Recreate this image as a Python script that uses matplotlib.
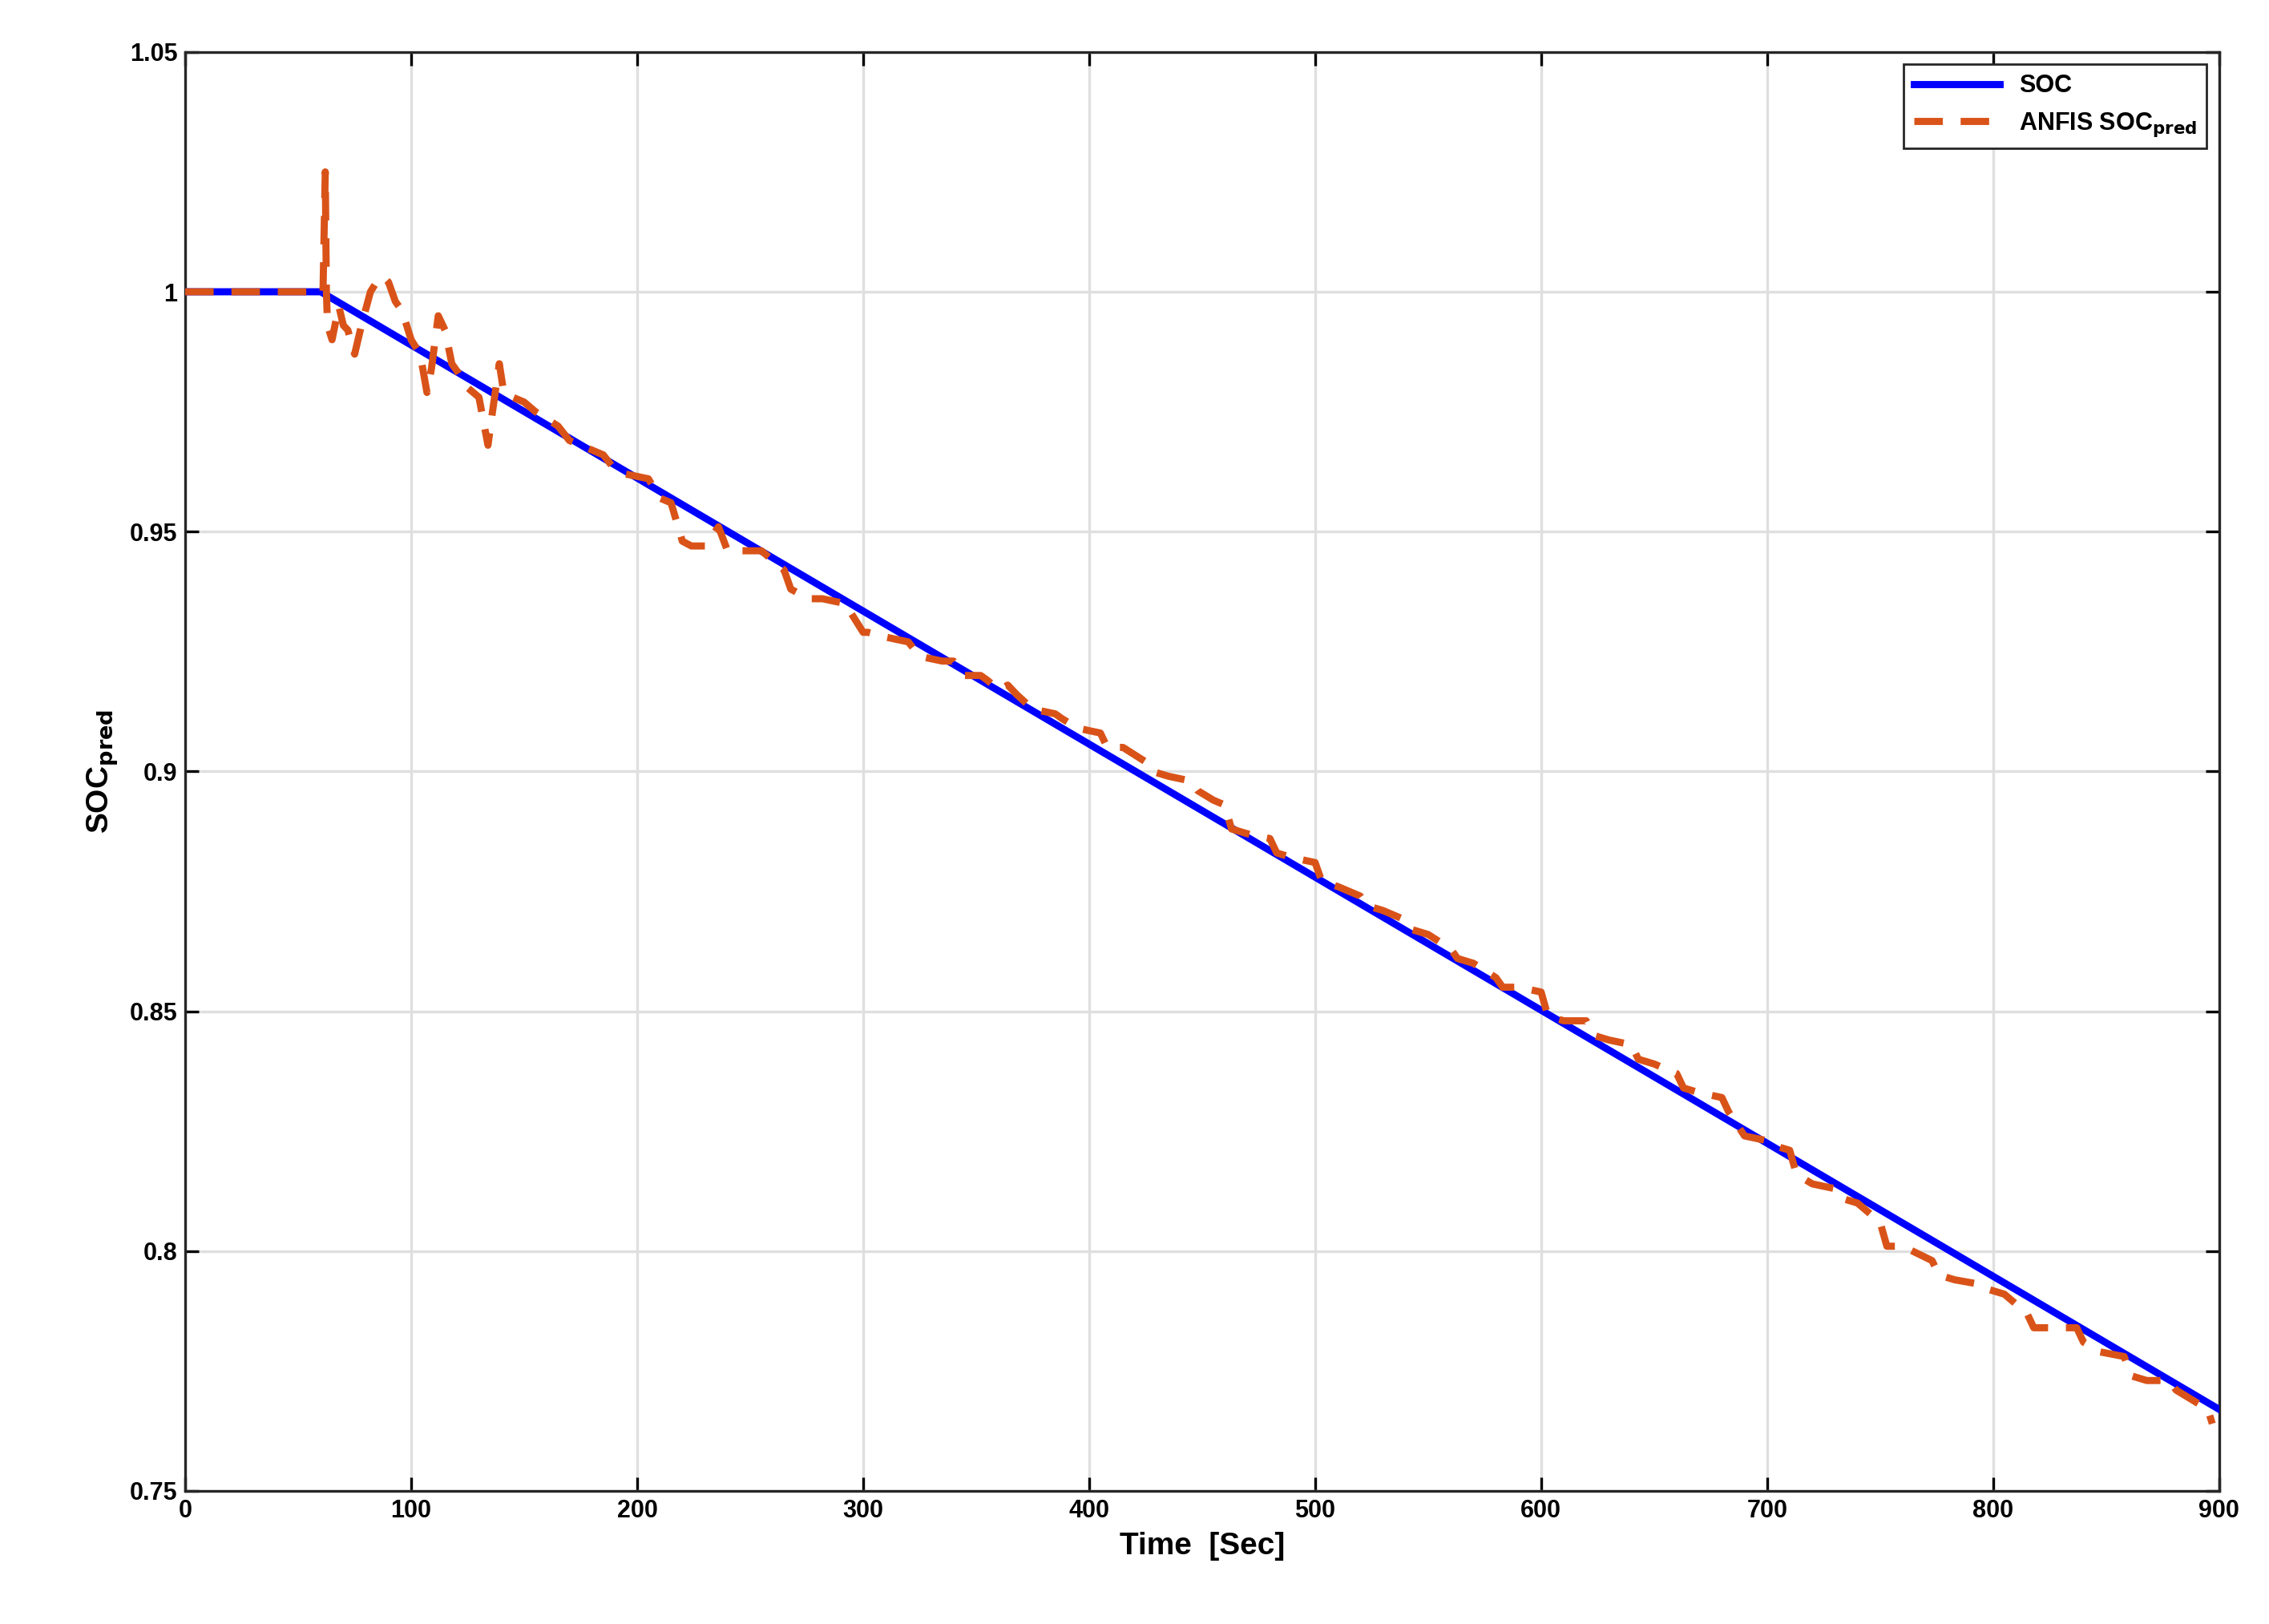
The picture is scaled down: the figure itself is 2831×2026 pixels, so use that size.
import matplotlib as mpl
mpl.use("Agg")
import matplotlib.pyplot as plt

mpl.rcParams.update({
    "font.family": ["Liberation Sans", "DejaVu Sans"],
    "font.weight": "bold",
    "axes.labelweight": "bold",
})

# true SOC
soc_t = [0, 60, 900]
soc_v = [1.0, 1.0, 0.767]

# ANFIS predicted SOC (time, value)
pred_pts = [
    (0, 1.0), (58, 1.0), (61, 1.0), (62, 1.025), (62.5, 1.0), (63, 0.993),
    (65, 0.990), (68, 0.997), (70, 0.993), (72, 0.992), (75, 0.987), (78, 0.993),
    (82, 1.0), (86, 1.003), (88, 1.003), (90, 1.002), (93, 0.998), (96, 0.996),
    (100, 0.990), (104, 0.987), (107, 0.979), (109, 0.984), (112, 0.995),
    (115, 0.992), (118, 0.985), (121, 0.983), (125, 0.980), (130, 0.978),
    (134, 0.968), (136, 0.975), (139, 0.985), (141, 0.979), (145, 0.978),
    (150, 0.977), (155, 0.975), (165, 0.972), (170, 0.969), (175, 0.968),
    (185, 0.966), (190, 0.963), (195, 0.962), (205, 0.961), (210, 0.957),
    (215, 0.956), (220, 0.948), (224, 0.947), (230, 0.947), (236, 0.951),
    (240, 0.946), (245, 0.946), (255, 0.946), (260, 0.944), (265, 0.942),
    (268, 0.938), (272, 0.937), (275, 0.936), (282, 0.936), (292, 0.935),
    (300, 0.929), (302, 0.929), (310, 0.928), (320, 0.927), (325, 0.924),
    (335, 0.923), (340, 0.923), (345, 0.920), (352, 0.920), (355, 0.919),
    (360, 0.917), (364, 0.918), (368, 0.916), (375, 0.913), (385, 0.912),
    (388, 0.911), (395, 0.909), (405, 0.908), (408, 0.905), (415, 0.905),
    (425, 0.902), (428, 0.900), (435, 0.899), (445, 0.898), (448, 0.896),
    (455, 0.894), (460, 0.893), (463, 0.888), (470, 0.887), (480, 0.886),
    (483, 0.883), (490, 0.882), (500, 0.881), (503, 0.877), (510, 0.876),
    (520, 0.874), (523, 0.872), (530, 0.871), (540, 0.869), (543, 0.867),
    (550, 0.866), (560, 0.863), (563, 0.861), (570, 0.860), (580, 0.857),
    (583, 0.855), (590, 0.855), (600, 0.854), (603, 0.849), (610, 0.848),
    (620, 0.848), (623, 0.845), (630, 0.844), (640, 0.843), (643, 0.840),
    (650, 0.839), (660, 0.837), (663, 0.834), (670, 0.833), (680, 0.832),
    (683, 0.829), (690, 0.824), (700, 0.823), (703, 0.822), (710, 0.821),
    (713, 0.816), (720, 0.814), (730, 0.813), (733, 0.811), (740, 0.810),
    (750, 0.806), (753, 0.801), (760, 0.801), (773, 0.798), (776, 0.795),
    (783, 0.794), (795, 0.793), (798, 0.792), (805, 0.791), (815, 0.787),
    (818, 0.784), (825, 0.784), (837, 0.784), (840, 0.781), (847, 0.779),
    (858, 0.778), (861, 0.774), (868, 0.773), (878, 0.773), (881, 0.771),
    (888, 0.769), (895, 0.767), (897, 0.764),
]
pred_t = [p[0] for p in pred_pts]
pred_v = [p[1] for p in pred_pts]

fig = plt.figure(figsize=(14.155, 10.13), dpi=200)
ax = fig.add_axes([0.0816, 0.082, 0.8964, 0.886])

ax.plot(soc_t, soc_v, color=(0, 0, 1), lw=3.2, label="SOC", zorder=3)
ax.plot(pred_t, pred_v, color=(0.851, 0.325, 0.098), lw=3.2, ls=(0, (4, 2.5)),
        label=r"ANFIS SOC$_{\mathbf{pred}}$", zorder=4)

ax.set_xlim(0, 900)
ax.set_ylim(0.75, 1.05)
ax.set_xticks(range(0, 901, 100))
ax.set_yticks([0.75, 0.8, 0.85, 0.9, 0.95, 1.0, 1.05])
ax.set_yticklabels(["0.75", "0.8", "0.85", "0.9", "0.95", "1", "1.05"])
ax.grid(True, color="#dfdfdf", lw=1.2)
ax.tick_params(labelsize=11, direction="in", length=6, width=1.2, top=True, right=True)
for s in ax.spines.values():
    s.set_linewidth(1.2)
    s.set_color("#262626")
ax.set_xlabel("Time  [Sec]", fontsize=14)
ax.set_ylabel(r"SOC$_{\mathbf{pred}}$", fontsize=14)

leg = ax.legend(loc="upper right", fontsize=11, fancybox=False, framealpha=1,
                edgecolor="#262626", handlelength=3.5, borderpad=0.4)

fig.savefig("out.png", dpi=200)
